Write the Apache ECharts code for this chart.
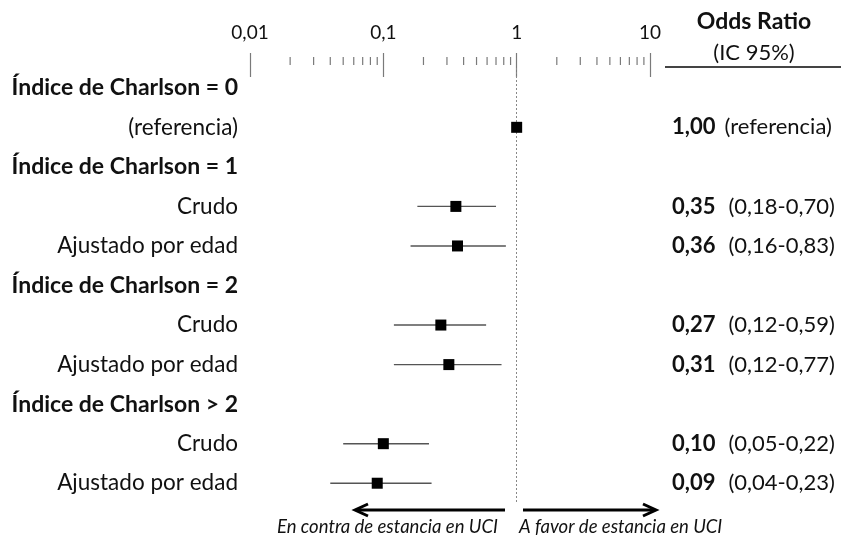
<!DOCTYPE html>
<html><head><meta charset="utf-8">
<script src="https://cdn.jsdelivr.net/npm/echarts@6/dist/echarts.min.js"></script>
<style>html,body{margin:0;padding:0;background:#fff}#c{width:841px;height:536px}</style>
</head><body><div id="c"></div>
<script>
var rowLabels = ['Índice de Charlson = 0','(referencia)','Índice de Charlson = 1','Crudo','Ajustado por edad','Índice de Charlson = 2','Crudo','Ajustado por edad','Índice de Charlson > 2','Crudo','Ajustado por edad'];
var isHeader = [1,0,1,0,0,1,0,0,1,0,0];
var oddsRatio = [null,1.00,null,0.35,0.36,null,0.27,0.31,null,0.10,0.09];
var ciLow =     [null,null,null,0.18,0.16,null,0.12,0.12,null,0.05,0.04];
var ciHigh =    [null,null,null,0.70,0.83,null,0.59,0.77,null,0.22,0.23];
var refNote =   [null,'(referencia)',null,null,null,null,null,null,null,null,null];
var tickValues = [0.01,0.1,1,10];
var tickLabels = ['0,01','0,1','1','10'];
var minorMultipliers = [2,3,4,5,6,7,8,9];

var FONT = 'Lato';
function fmt(v){ return v.toFixed(2).replace('.', ','); }

var rightLabels = rowLabels.map(function(_, i){
  if (oddsRatio[i] == null) return '';
  if (refNote[i]) return '{r|' + fmt(oddsRatio[i]) + '}{n|' + refNote[i] + '}';
  return '{b|' + fmt(oddsRatio[i]) + '}{n|(' + fmt(ciLow[i]) + '-' + fmt(ciHigh[i]) + ')}';
});

var minorTicks = [];
[0.01,0.1,1].forEach(function(d){ minorMultipliers.forEach(function(m){ minorTicks.push([+(m*d).toPrecision(3), 0]); }); });

var pointData = [], ciData = [];
rowLabels.forEach(function(_, i){
  if (oddsRatio[i] != null) pointData.push([oddsRatio[i], i]);
  if (ciLow[i] != null) ciData.push([ciLow[i], ciHigh[i], i]);
});

var chart = echarts.init(document.getElementById('c'));
var gridTop = 68;
chart.setOption({
  animation: false,
  textStyle: { fontFamily: FONT },
  grid: { left: 250, right: 191, top: gridTop, height: 435 },
  xAxis: [{
    type: 'log', logBase: 10, min: 0.01, max: 10, position: 'top', offset: 3,
    axisLine: { lineStyle: { color: '#7a7a7a', width: 1.2 } },
    axisTick: { show: true, length: 12, lineStyle: { color: '#7a7a7a', width: 1.2 } },
    axisLabel: { margin: 23, fontSize: 19, color: '#111', fontFamily: FONT,
      formatter: function(v){ var k = tickValues.findIndex(function(t){ return Math.abs(t - v) / t < 1e-6; }); return k >= 0 ? tickLabels[k] : ''; } },
    splitLine: { show: false }
  }, {
    type: 'log', logBase: 10, min: 0.01, max: 10, position: 'top', offset: 3,
    axisLine: { show: false },
    axisTick: { show: true, inside: true, length: 12, lineStyle: { color: '#7a7a7a', width: 1.2 } },
    axisLabel: { show: false }, splitLine: { show: false }
  }],
  yAxis: [{
    type: 'category', inverse: true, data: rowLabels, position: 'left',
    axisLine: { show: false }, axisTick: { show: false },
    axisLabel: { interval: 0, margin: 12, align: 'right',
      formatter: function(v, i){ return isHeader[i] ? '{h|' + v + '}' : '{n|' + v + '}'; },
      rich: { h: { fontFamily: FONT, fontWeight: 'bold', fontSize: 23, color: '#111' },
              n: { fontFamily: FONT, fontSize: 22.5, color: '#111' } } }
  }, {
    type: 'category', inverse: true, data: rightLabels, position: 'right',
    axisLine: { show: false }, axisTick: { show: false },
    axisLabel: { interval: 0, margin: 22, align: 'left',
      formatter: function(v){ return v; },
      rich: { b: { fontFamily: FONT, fontWeight: 'bold', fontSize: 22, color: '#111', padding: [0, 13, 0, 0] },
              r: { fontFamily: FONT, fontWeight: 'bold', fontSize: 22, color: '#111', padding: [0, 9, 0, 0] },
              n: { fontFamily: FONT, fontSize: 22, color: '#111' } } }
  }],
  series: [{
    type: 'custom', xAxisIndex: 0, yAxisIndex: 0, clip: false, z: 3,
    data: minorTicks,
    renderItem: function(params, api){
      var x = api.coord([api.value(0), 0])[0];
      var yTop = params.coordSys.y - 3;
      return { type: 'line', shape: { x1: x, y1: yTop, x2: x, y2: yTop - 8 },
               style: { stroke: '#7a7a7a', lineWidth: 1.2 } };
    }
  }, {
    type: 'custom', xAxisIndex: 0, yAxisIndex: 0, z: 4,
    data: ciData,
    renderItem: function(params, api){
      var a = api.coord([api.value(0), api.value(2)]);
      var b = api.coord([api.value(1), api.value(2)]);
      return { type: 'line', shape: { x1: a[0], y1: a[1], x2: b[0], y2: b[1] },
               style: { stroke: '#555', lineWidth: 1.4 } };
    }
  }, {
    type: 'scatter', xAxisIndex: 0, yAxisIndex: 0, z: 5,
    symbol: 'rect', symbolSize: 11,
    itemStyle: { color: '#000', opacity: 1 },
    data: pointData,
    markLine: { silent: true, symbol: 'none', label: { show: false },
      lineStyle: { type: [2, 2], color: '#888', width: 1 },
      data: [{ xAxis: 1 }] }
  }],
  graphic: [
    { type: 'line', shape: { x1: 505, y1: 510, x2: 356, y2: 510 }, style: { stroke: '#000', lineWidth: 3 } },
    { type: 'polyline', shape: { points: [[368, 504], [355, 510], [368, 516]] }, style: { stroke: '#000', lineWidth: 3, fill: null } },
    { type: 'line', shape: { x1: 523, y1: 510, x2: 655, y2: 510 }, style: { stroke: '#000', lineWidth: 3 } },
    { type: 'polyline', shape: { points: [[643, 504], [656, 510], [643, 516]] }, style: { stroke: '#000', lineWidth: 3, fill: null } },
    { type: 'text', x: 498, y: 527, style: { text: 'En contra de estancia en UCI', fontFamily: FONT, fontStyle: 'italic', fontSize: 18.5, fill: '#111', align: 'right', verticalAlign: 'middle' } },
    { type: 'text', x: 519, y: 527, style: { text: 'A favor de estancia en UCI', fontFamily: FONT, fontStyle: 'italic', fontSize: 18.5, fill: '#111', align: 'left', verticalAlign: 'middle' } },
    { type: 'text', x: 754, y: 22, style: { text: 'Odds Ratio', fontFamily: FONT, fontWeight: 'bold', fontSize: 23, fill: '#111', align: 'center', verticalAlign: 'middle' } },
    { type: 'text', x: 754, y: 53, style: { text: '(IC 95%)', fontFamily: FONT, fontSize: 22, fill: '#111', align: 'center', verticalAlign: 'middle' } },
    { type: 'line', shape: { x1: 665, y1: 67, x2: 841, y2: 67 }, style: { stroke: '#444', lineWidth: 2 } }
  ]
});
</script></body></html>
